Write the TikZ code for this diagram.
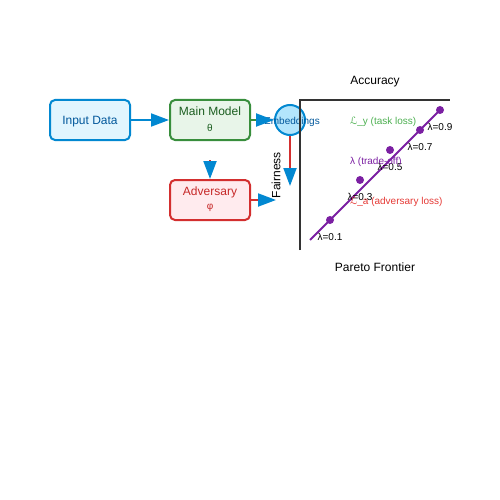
\documentclass[tikz,border=0pt]{standalone}
\usepackage{fontspec}
\setmainfont{Liberation Sans}
\newfontfamily\symfont{DejaVu Sans}
\usetikzlibrary{arrows.meta}
\definecolor{inblue}{HTML}{0288D1}
\definecolor{infill}{HTML}{E1F5FE}
\definecolor{intext}{HTML}{01579B}
\definecolor{mgreen}{HTML}{388E3C}
\definecolor{mfill}{HTML}{E8F5E9}
\definecolor{mtext}{HTML}{1B5E20}
\definecolor{ared}{HTML}{D32F2F}
\definecolor{afill}{HTML}{FFEBEE}
\definecolor{atext}{HTML}{C62828}
\definecolor{embfill}{HTML}{B3E5FC}
\definecolor{axcol}{HTML}{333333}
\definecolor{purp}{HTML}{7B1FA2}
\definecolor{lgreen}{HTML}{4CAF50}
\definecolor{lred}{HTML}{E53935}
\tikzset{
  box/.style={draw, line width=2pt, rounded corners=5pt, minimum width=80pt, minimum height=40pt, inner sep=0pt},
  flow/.style={line width=2pt, -{Triangle[length=18pt,width=13pt,color=inblue]}},
  big/.style={font=\fontsize{12}{14}\selectfont},
  small/.style={font=\fontsize{10}{12}\selectfont},
  pt/.style={circle, fill=purp, inner sep=0pt, minimum size=8pt},
  lam/.style={font=\fontsize{10}{12}\selectfont, text=black, inner sep=0pt},
}
\begin{document}
\begin{tikzpicture}[x=1pt,y=-1pt]
\useasboundingbox (0,0) rectangle (500,500);
% boxes
\node[box, draw=inblue, fill=infill] (input) at (90,120) {};
\node[big, text=intext] (inputtxt) at (90,122) {Input Data};
\node[box, draw=mgreen, fill=mfill] (main) at (210,120) {};
\node[big, text=mtext] (maintxt) at (210,111.5) {Main Model};
\node[small, text=mtext] (theta) at (210,127.5) {θ};
\node[box, draw=ared, fill=afill] (adv) at (210,200) {};
\node[big, text=atext] (advtxt) at (210,192) {Adversary};
\node[small, text=atext] (phi) at (210,208) {φ};
\node[circle, draw=inblue, fill=embfill, line width=2pt, minimum size=30pt, inner sep=0pt] (emb) at (290,120) {};
\node[small, text=intext] (embtxt) at (292,121.5) {Embeddings};
% connectors
\coordinate (advstart) at (210,160);
\coordinate (advout) at (276,200);
\coordinate (embdown) at (290,186);
\draw[flow, inblue] (input.east) -- (main.west);
\draw[flow, mgreen] (main.east) -- (emb.west);
\draw[flow, ared] (advstart) -- (adv.north);
\draw[flow, ared] (adv.east) -- (advout);
\draw[flow, ared] (emb.south) -- (embdown);
\node[big, rotate=90] (fair) at (276,175) {Fairness};
% axes
\coordinate (ax0) at (300,250);
\coordinate (axc) at (300,100);
\coordinate (ax1) at (450,100);
\draw[axcol, line width=2pt] (ax0) -- (axc) -- (ax1);
\node[big] (acc) at (375,81.5) {Accuracy};
\node[big] (pareto) at (375,267) {Pareto Frontier};
% pareto line
\coordinate (p0) at (310,240);
\coordinate (p1) at (440,110);
\draw[purp, line width=2pt] (p0) -- (p1);
\node[pt] (a) at (330,220) {};
\node[pt] (b) at (360,180) {};
\node[pt] (c) at (390,150) {};
\node[pt] (d) at (420,130) {};
\node[pt] (e) at (440,110) {};
\node[lam] (la) at (330,237) {λ=0.1};
\node[lam] (lb) at (360,197) {λ=0.3};
\node[lam] (lc) at (390,167) {λ=0.5};
\node[lam] (ld) at (420,147) {λ=0.7};
\node[lam] (le) at (440,127) {λ=0.9};
\node[small, text=lgreen, anchor=west, inner sep=0pt] (ly) at (350,122) {{\symfont ℒ}\_y (task loss)};
\node[small, text=purp, anchor=west, inner sep=0pt] (lt) at (350,162) {λ (trade-off)};
\node[small, text=lred, anchor=west, inner sep=0pt] (la2) at (350,202) {{\symfont ℒ}\_a (adversary loss)};
\end{tikzpicture}
\end{document}
